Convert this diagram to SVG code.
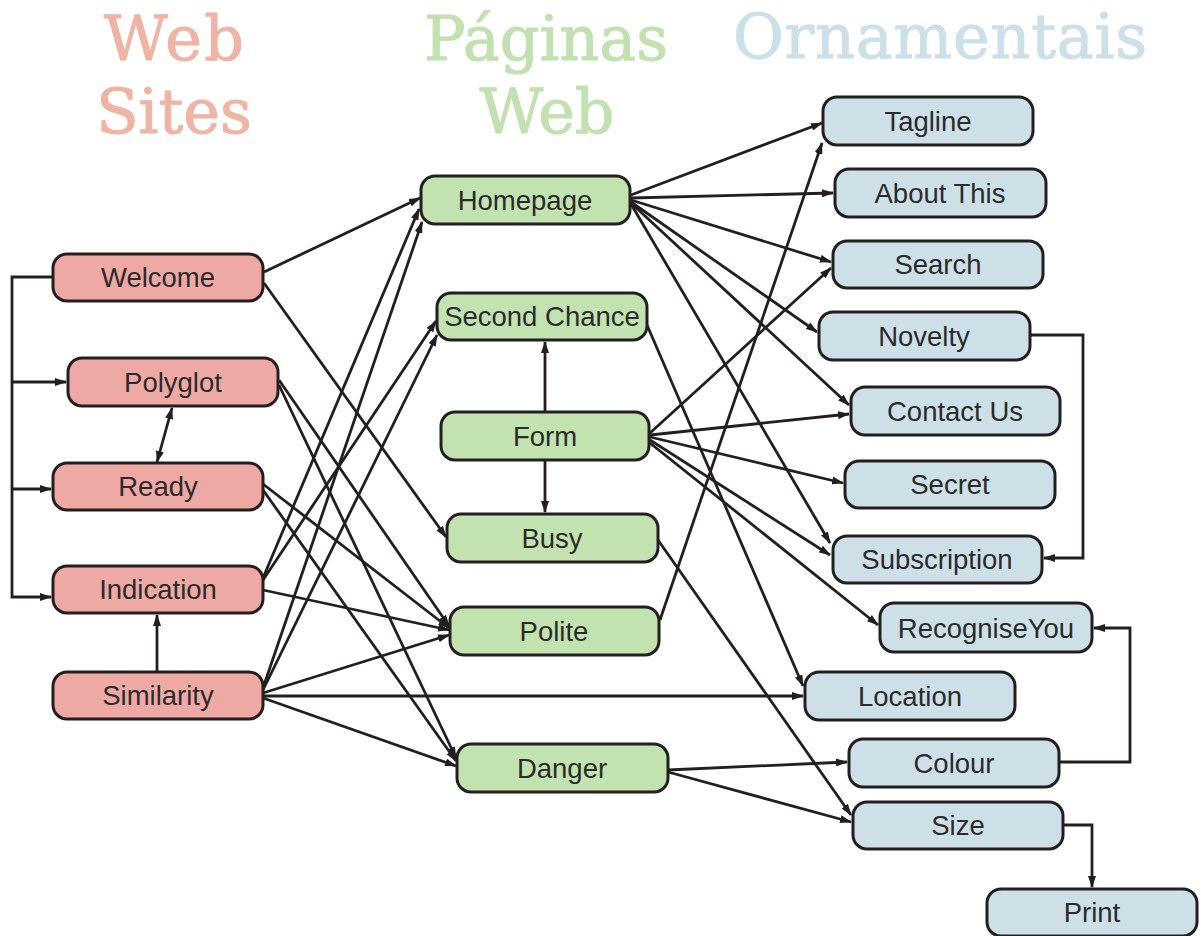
<svg xmlns="http://www.w3.org/2000/svg" width="1201" height="936" viewBox="0 0 1201 936">
<style>
.title{font-family:"DejaVu Serif","Liberation Serif",serif;font-size:62px;text-anchor:middle;stroke-width:1;stroke-linejoin:round}
.t1{fill:#efb4a4;stroke:#efb4a4}.t2{fill:#c2e1b0;stroke:#c2e1b0}.t3{fill:#cbe0e8;stroke:#cbe0e8}
.node rect{stroke:#231f20;stroke-width:3;rx:14;ry:14}
.site rect{fill:#efa9a4}.page rect{fill:#c2e2b0}.orn rect{fill:#cde0e8}
.node text{font-family:"Liberation Sans",Arial,sans-serif;font-size:27.5px;fill:#2b2b2b;text-anchor:middle}
.edges path,.edges line{stroke:#231f20;stroke-width:2.8;fill:none;marker-end:url(#ah)}
</style>
<defs>
<marker id="ah" markerUnits="userSpaceOnUse" markerWidth="12" markerHeight="8" refX="11" refY="4" orient="auto-start-reverse"><path d="M0,0 L12,4 L0,8 z" fill="#231f20"/></marker>
</defs>
<rect width="1201" height="936" fill="#ffffff"/>
<g id="titles">
<text class="title t1" x="174" y="60" textLength="140" lengthAdjust="spacing">Web</text>
<text class="title t1" x="174" y="133">Sites</text>
<text class="title t2" x="546" y="60">Páginas</text>
<text class="title t2" x="547" y="133">Web</text>
<text class="title t3" x="940" y="58" textLength="414" lengthAdjust="spacing">Ornamentais</text>
</g>
<g class="edges" id="connectors">
<path d="M53,277 H12 V597 H51"/>
<line x1="12" y1="382" x2="66" y2="382"/>
<line x1="12" y1="489" x2="51" y2="489"/>
<line x1="157" y1="462" x2="172" y2="408" style="marker-start:url(#ah)"/>
<line x1="157" y1="672" x2="157" y2="615"/>
<line x1="545" y1="412" x2="545" y2="342"/>
<line x1="545" y1="460" x2="545" y2="512"/>
<path d="M1030,335 H1083 V558 H1044"/>
<path d="M1059,762 H1130 V628 H1094"/>
<path d="M1063,825 H1092 V887"/>
<line x1="264" y1="272" x2="420" y2="198"/>
<line x1="264" y1="283" x2="446" y2="537"/>
<line x1="279" y1="380" x2="449" y2="626"/>
<line x1="279" y1="385" x2="456" y2="758"/>
<line x1="263" y1="484" x2="449" y2="628"/>
<line x1="263" y1="490" x2="456" y2="761"/>
<line x1="263" y1="578" x2="419" y2="209"/>
<line x1="263" y1="580" x2="436" y2="321"/>
<line x1="263" y1="590" x2="449" y2="630"/>
<line x1="263" y1="688" x2="422" y2="222"/>
<line x1="263" y1="690" x2="437" y2="335"/>
<line x1="263" y1="693" x2="449" y2="635"/>
<line x1="263" y1="696" x2="803" y2="696"/>
<line x1="263" y1="698" x2="456" y2="766"/>
<line x1="631" y1="195" x2="822" y2="123"/>
<line x1="631" y1="198" x2="833" y2="193"/>
<line x1="631" y1="200" x2="831" y2="262"/>
<line x1="631" y1="202" x2="817" y2="332"/>
<line x1="631" y1="203" x2="849" y2="405"/>
<line x1="631" y1="204" x2="830" y2="543"/>
<line x1="647" y1="325" x2="803" y2="686"/>
<line x1="650" y1="433" x2="831" y2="268"/>
<line x1="650" y1="435" x2="849" y2="414"/>
<line x1="650" y1="437" x2="843" y2="483"/>
<line x1="650" y1="440" x2="830" y2="555"/>
<line x1="650" y1="443" x2="878" y2="625"/>
<line x1="658" y1="540" x2="851" y2="815"/>
<line x1="660" y1="620" x2="822" y2="143"/>
<line x1="668" y1="770" x2="847" y2="762"/>
<line x1="668" y1="772" x2="851" y2="822"/>
</g>
<g class="node site" id="welcome"><rect x="53" y="254" width="210" height="47"/><text x="158" y="287">Welcome</text></g>
<g class="node site" id="polyglot"><rect x="68" y="358" width="210" height="48"/><text x="173" y="392">Polyglot</text></g>
<g class="node site" id="ready"><rect x="53" y="463" width="210" height="47"/><text x="158" y="496">Ready</text></g>
<g class="node site" id="indication"><rect x="53" y="566" width="210" height="47"/><text x="158" y="599">Indication</text></g>
<g class="node site" id="similarity"><rect x="53" y="672" width="210" height="47"/><text x="158" y="705">Similarity</text></g>
<g class="node page" id="homepage"><rect x="421" y="176" width="209" height="48"/><text x="525" y="210">Homepage</text></g>
<g class="node page" id="second-chance"><rect x="437" y="293" width="210" height="47"/><text x="542" y="326">Second Chance</text></g>
<g class="node page" id="form"><rect x="441" y="412" width="208" height="48"/><text x="545" y="446">Form</text></g>
<g class="node page" id="busy"><rect x="447" y="514" width="211" height="48"/><text x="552" y="548">Busy</text></g>
<g class="node page" id="polite"><rect x="450" y="607" width="209" height="48"/><text x="554" y="641">Polite</text></g>
<g class="node page" id="danger"><rect x="457" y="744" width="211" height="48"/><text x="562" y="778">Danger</text></g>
<g class="node orn" id="tagline"><rect x="823" y="97" width="210" height="48"/><text x="928" y="131">Tagline</text></g>
<g class="node orn" id="about-this"><rect x="835" y="169" width="211" height="48"/><text x="940" y="203">About This</text></g>
<g class="node orn" id="search"><rect x="833" y="241" width="210" height="47"/><text x="938" y="274">Search</text></g>
<g class="node orn" id="novelty"><rect x="819" y="312" width="211" height="48"/><text x="924" y="346">Novelty</text></g>
<g class="node orn" id="contact-us"><rect x="851" y="387" width="209" height="48"/><text x="955" y="421">Contact Us</text></g>
<g class="node orn" id="secret"><rect x="845" y="461" width="210" height="47"/><text x="950" y="494">Secret</text></g>
<g class="node orn" id="subscription"><rect x="833" y="536" width="209" height="47"/><text x="937" y="569">Subscription</text></g>
<g class="node orn" id="recognise-you"><rect x="880" y="603" width="212" height="49"/><text x="986" y="638">RecogniseYou</text></g>
<g class="node orn" id="location"><rect x="805" y="672" width="210" height="48"/><text x="910" y="706">Location</text></g>
<g class="node orn" id="colour"><rect x="849" y="739" width="210" height="48"/><text x="954" y="773">Colour</text></g>
<g class="node orn" id="size"><rect x="853" y="802" width="210" height="47"/><text x="958" y="835">Size</text></g>
<g class="node orn" id="print"><rect x="987" y="889" width="210" height="47"/><text x="1092" y="922">Print</text></g>
</svg>
